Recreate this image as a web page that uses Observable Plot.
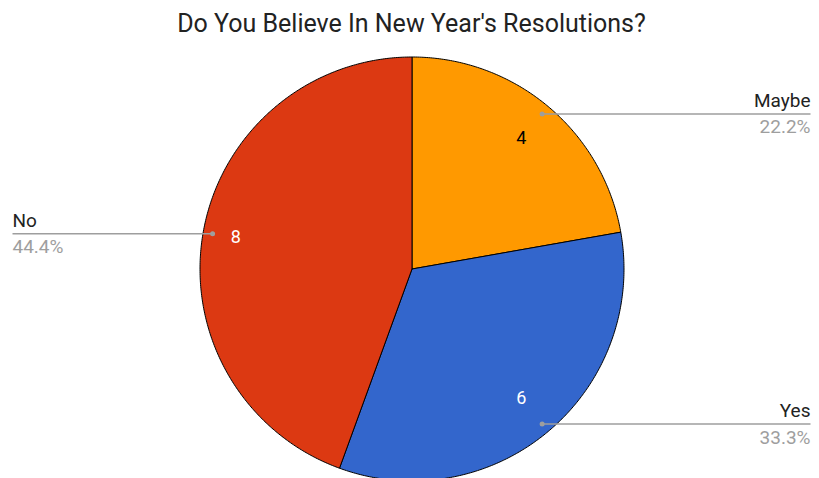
<!DOCTYPE html>
<html>
<head>
<meta charset="utf-8">
<script src="https://cdn.jsdelivr.net/npm/d3@7"></script>
<script src="https://cdn.jsdelivr.net/npm/@observablehq/plot@0.6"></script>
<style>
  html, body { margin: 0; padding: 0; background: #fff; }
  #chart svg { display: block; font-family: Roboto, "Noto Sans", sans-serif; }
</style>
</head>
<body>
<div id="chart"></div>
<script>
const title = "Do You Believe In New Year's Resolutions?";
const categories = ["Maybe", "Yes", "No"];
const values = [4, 6, 8];
const colors = ["#ff9900", "#3366cc", "#dc3912"];
const valueTextColors = ["#000000", "#ffffff", "#ffffff"];

// layout (pixel space) constants
const W = 819, H = 478;
const cx = 411.5, cy = 268.5, R = 212;
const labelRight = 810, labelLeft = 12;

const total = d3.sum(values);
// angles clockwise from 12 o'clock
const pie = d3.pie().sort(null).startAngle(0).endAngle(2 * Math.PI)(values);

const slices = pie.map((p, i) => ({
  name: categories[i], value: values[i], color: colors[i],
  a0: p.startAngle, a1: p.endAngle, mid: (p.startAngle + p.endAngle) / 2,
  pct: (values[i] / total * 100).toFixed(1) + "%", textColor: valueTextColors[i]
}));

// polygon vertices for each slice in unit-circle data space (y up)
function slicePoly(s) {
  const pts = [{x: 0, y: 0}];
  const n = Math.max(2, Math.ceil((s.a1 - s.a0) / (Math.PI / 360)));
  for (let k = 0; k <= n; k++) {
    const a = s.a0 + (s.a1 - s.a0) * k / n;
    pts.push({x: Math.sin(a), y: Math.cos(a)});
  }
  pts.push({x: 0, y: 0});
  return pts;
}

const leaderR = 0.955;
// value label radius: a bit further out for wide slices whose label sits near the horizontal
const valueR = s => 0.8 + 0.05 * Math.abs(Math.sin(s.mid)) ** 8;
const leaders = slices.map(s => {
  const x = leaderR * Math.sin(s.mid), y = leaderR * Math.cos(s.mid);
  const right = x >= 0;
  return {...s, x, y, right, xEnd: right ? (labelRight - cx) / R : (labelLeft - cx) / R};
});

const marks = [];
slices.forEach(s => {
  marks.push(Plot.line(slicePoly(s), {x: "x", y: "y", fill: s.color, stroke: "#000", strokeWidth: 1, strokeLinejoin: "round"}));
});
marks.push(
  Plot.link(leaders, {x1: "x", y1: "y", x2: "xEnd", y2: "y", stroke: "#9e9e9e", strokeWidth: 1.5}),
  Plot.dot(leaders, {x: "x", y: "y", r: 2.5, fill: "#9e9e9e"}),
  Plot.text(leaders.filter(d => d.right), {x: "xEnd", y: "y", text: "name", textAnchor: "end", lineAnchor: "bottom", dy: -7, fontSize: 19, fill: "#222"}),
  Plot.text(leaders.filter(d => d.right), {x: "xEnd", y: "y", text: "pct", textAnchor: "end", lineAnchor: "top", dy: 6, fontSize: 19, fill: "#9e9e9e", letterSpacing: "0.4px"}),
  Plot.text(leaders.filter(d => !d.right), {x: "xEnd", y: "y", text: "name", textAnchor: "start", lineAnchor: "bottom", dy: -7, fontSize: 19, fill: "#222"}),
  Plot.text(leaders.filter(d => !d.right), {x: "xEnd", y: "y", text: "pct", textAnchor: "start", lineAnchor: "top", dy: 6, fontSize: 19, fill: "#9e9e9e", letterSpacing: "0.4px"}),
  Plot.text(slices, {x: d => valueR(d) * Math.sin(d.mid), y: d => valueR(d) * Math.cos(d.mid), text: d => String(d.value), fill: "textColor", fontSize: 18, lineAnchor: "middle", dy: -1}),
  Plot.text([title], {frameAnchor: "top", dy: 14, lineAnchor: "top", fontSize: 25, fill: "#222", dx: 1.5, letterSpacing: "1.5px"})
);

const chart = Plot.plot({
  width: W, height: H,
  marginTop: 0, marginRight: 0, marginBottom: 0, marginLeft: 0,
  x: {type: "linear", domain: [-cx / R, (W - cx) / R], range: [0, W], axis: null},
  y: {type: "linear", domain: [cy / R, -(H - cy) / R], range: [0, H], axis: null},
  style: {fontFamily: "Roboto, 'Noto Sans', sans-serif", background: "#fff"},
  marks
});
document.getElementById("chart").appendChild(chart);
</script>
</body>
</html>
